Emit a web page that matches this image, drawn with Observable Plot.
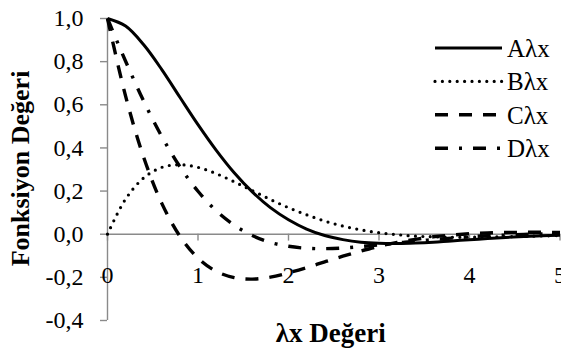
<!DOCTYPE html>
<html>
<head>
<meta charset="utf-8">
<script src="https://cdn.jsdelivr.net/npm/d3@7"></script>
<script src="https://cdn.jsdelivr.net/npm/@observablehq/plot@0.6"></script>
<style>
  html, body { margin: 0; padding: 0; background: #fff; }
  #chart { position: relative; width: 561px; height: 349px; }
  #legend { position: absolute; left: 0; top: 0; pointer-events: none; }
</style>
</head>
<body>
<div id="chart"></div>
<script>
// λx values along the beam
const lambdaX = [0, 0.2, 0.4, 0.6, 0.8, 1.0, 1.2, 1.4, 1.6, 1.8, 2.0, 2.2, 2.4,
                 2.6, 2.8, 3.0, 3.2, 3.4, 3.6, 3.8, 4.0, 4.2, 4.4, 4.6, 4.8, 5.0];

// Function values at each λx
const valuesA = [1.000, 0.965, 0.878, 0.763, 0.635, 0.508, 0.390, 0.285, 0.196, 0.123,
                 0.067, 0.024, -0.006, -0.025, -0.037, -0.042, -0.043, -0.041, -0.037,
                 -0.031, -0.026, -0.020, -0.015, -0.011, -0.007, -0.005];
const valuesB = [0.000, 0.163, 0.261, 0.310, 0.322, 0.310, 0.281, 0.243, 0.202, 0.161,
                 0.123, 0.090, 0.061, 0.038, 0.020, 0.007, -0.002, -0.009, -0.012,
                 -0.014, -0.014, -0.013, -0.012, -0.010, -0.008, -0.006];
const valuesC = [1.000, 0.640, 0.356, 0.143, -0.009, -0.111, -0.172, -0.201, -0.208, -0.199,
                 -0.179, -0.155, -0.128, -0.102, -0.078, -0.056, -0.038, -0.024, -0.012,
                 -0.004, 0.002, 0.006, 0.008, 0.009, 0.009, 0.008];
const valuesD = [1.000, 0.802, 0.617, 0.453, 0.313, 0.199, 0.109, 0.042, -0.006, -0.038,
                 -0.056, -0.065, -0.067, -0.064, -0.057, -0.049, -0.041, -0.032, -0.025,
                 -0.018, -0.012, -0.007, -0.004, -0.001, 0.001, 0.002];

const seriesNames = ["Aλx", "Bλx", "Cλx", "Dλx"];
const seriesValues = [valuesA, valuesB, valuesC, valuesD];

const xTicks = [0, 1, 2, 3, 4, 5];
const yTicks = [-0.4, -0.2, 0.0, 0.2, 0.4, 0.6, 0.8, 1.0];

const yTitle = "Fonksiyon Değeri";
const xTitle = "λx Değeri";

// Line styles for each function
const lineStyles = {
  "Aλx": {strokeWidth: 3, strokeDasharray: null, strokeLinecap: "butt"},
  "Bλx": {strokeWidth: 3.2, strokeDasharray: "0 7.4", strokeLinecap: "round"},
  "Cλx": {strokeWidth: 3.4, strokeDasharray: "13 11", strokeLinecap: "butt"},
  "Dλx": {strokeWidth: 3.4, strokeDasharray: "13 11 3 11", strokeLinecap: "butt"}
};

const axisGray = "#8a8a8a";
const serif = "'Liberation Serif', 'Times New Roman', serif";
const commaFormat = d => d.toFixed(1).replace(".", ",").replace("-0,0", "0,0");

const rows = seriesNames.flatMap((name, s) =>
  lambdaX.map((x, i) => ({series: name, x, y: seriesValues[s][i]}))
);

const curveMarks = seriesNames.map(name =>
  Plot.line(rows.filter(d => d.series === name), {
    x: "x", y: "y", stroke: "#000", curve: "catmull-rom",
    strokeLinejoin: "round", ...lineStyles[name]
  })
);

const chart = Plot.plot({
  width: 561,
  height: 349,
  marginLeft: 107,
  marginRight: 1.5,
  marginTop: 18,
  marginBottom: 29,
  style: `font-family: ${serif}; font-size: 24px; background: #fff; color: #000;`,
  x: {domain: [0, 5], axis: null},
  y: {domain: [-0.4, 1.0]},
  marks: [
    Plot.ruleX([0], {stroke: axisGray, strokeWidth: 1.4}),
    Plot.ruleY([0], {stroke: axisGray, strokeWidth: 1.4}),
    Plot.ruleX(xTicks, {x: d => d, y1: 0, y2: -0.032, stroke: axisGray, strokeWidth: 1.4}),
    Plot.axisY(yTicks, {
      tickSize: 7, tickPadding: 17, stroke: axisGray, strokeWidth: 1.4,
      fill: "#000", tickFormat: commaFormat, label: null, fontSize: 24
    }),
    Plot.text(xTicks, {x: d => d, y: -0.2, dy: -2, text: d => String(d), fontSize: 24, fill: "#000"}),
    ...curveMarks,
    Plot.text([yTitle], {
      frameAnchor: "left", textAnchor: "middle", lineAnchor: "middle",
      dx: -87, dy: -1, rotate: -90,
      fontWeight: "bold", fontSize: 26, fill: "#000"
    }),
    Plot.text([xTitle], {
      frameAnchor: "bottom", textAnchor: "middle", lineAnchor: "middle",
      dx: -3, dy: 13,
      fontWeight: "bold", fontSize: 27, fill: "#000"
    })
  ]
});

const container = document.getElementById("chart");
container.appendChild(chart);

// Legend drawn over the upper right of the plot area
const legend = d3.select(container).append("svg")
  .attr("id", "legend")
  .attr("width", 561)
  .attr("height", 349);

const legendLeft = 435, legendRight = 502, legendTop = 48, legendStep = 33.4;
seriesNames.forEach((name, i) => {
  const y = legendTop + i * legendStep;
  const st = lineStyles[name];
  legend.append("line")
    .attr("x1", legendLeft).attr("x2", legendRight)
    .attr("y1", y).attr("y2", y)
    .attr("stroke", "#000")
    .attr("stroke-width", st.strokeWidth)
    .attr("stroke-linecap", st.strokeLinecap)
    .attr("stroke-dasharray", st.strokeDasharray);
  legend.append("text")
    .attr("x", legendRight + 5).attr("y", y)
    .attr("dy", "0.35em")
    .attr("font-family", serif)
    .attr("font-size", 25)
    .attr("fill", "#000")
    .text(name);
});
</script>
</body>
</html>
